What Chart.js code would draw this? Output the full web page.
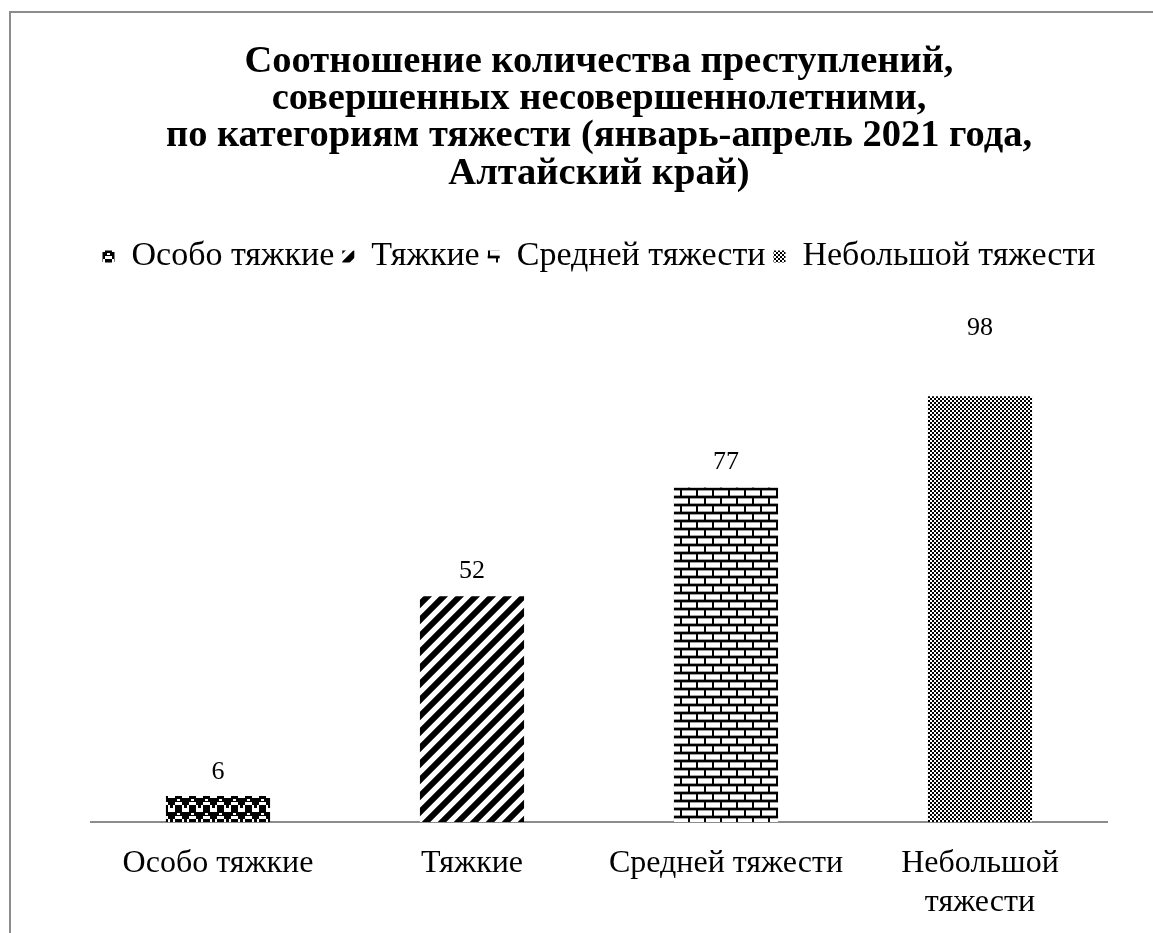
<!DOCTYPE html>
<html>
<head>
<meta charset="utf-8">
<script src="https://cdn.jsdelivr.net/npm/chart.js@4"></script>
<style>
  html, body { margin: 0; padding: 0; background: #fff; }
  #wrap { position: relative; width: 1153px; height: 933px; overflow: hidden; }
  #frame { position: absolute; left: 9px; top: 11px; width: 1200px; height: 1000px;
           border-left: 2px solid #8c8c8c; border-top: 2px solid #8c8c8c; }
  canvas { position: absolute; left: 0; top: 0; }
</style>
</head>
<body>
<div id="wrap">
  <div id="frame"></div>
  <canvas id="chart" width="1153" height="933"></canvas>
</div>
<script>
const titleLines = [
  "Соотношение количества преступлений,",
  "совершенных несовершеннолетними,",
  "по категориям тяжести (январь-апрель 2021 года,",
  "Алтайский край)"
];
const categories = ["Особо тяжкие", "Тяжкие", "Средней тяжести", "Небольшой тяжести"];
const tickLabels = [["Особо тяжкие"], ["Тяжкие"], ["Средней тяжести"], ["Небольшой", "тяжести"]];
const counts = [6, 52, 77, 98];

const FONT = "'Liberation Serif', 'Times New Roman', serif";

// штриховки в стиле Excel
function tile(size, draw) {
  const c = document.createElement("canvas");
  c.width = size; c.height = size;
  const g = c.getContext("2d");
  g.fillStyle = "#fff";
  g.fillRect(0, 0, size, size);
  g.fillStyle = "#000";
  draw(g, size);
  return document.getElementById("chart").getContext("2d").createPattern(c, "repeat");
}

const patterns = [
  tile(14, (g) => {            // крупная шахматка
    g.fillRect(0, 0, 7, 7);
    g.fillRect(7, 7, 7, 7);
    g.fillRect(0, 0, 14, 4);
    g.fillRect(2, 7, 3, 3);
    g.fillStyle = "#fff";
    g.fillRect(9, 1, 3, 2);
  }),
  tile(16, (g) => {            // широкая диагональ
    g.strokeStyle = "#000";
    g.lineWidth = 6;
    g.beginPath();
    g.moveTo(-4, 20); g.lineTo(20, -4);
    g.moveTo(-4, 4); g.lineTo(4, -4);
    g.moveTo(12, 20); g.lineTo(20, 12);
    g.stroke();
  }),
  tile(16, (g) => {            // кирпич
    g.fillRect(0, 0, 16, 2);
    g.fillRect(0, 8, 16, 2);
    g.fillRect(0, 0, 2, 8);
    g.fillRect(8, 8, 2, 8);
    g.fillStyle = "#a0a0a0";
    g.fillRect(2, 2, 14, 1);
    g.fillRect(2, 7, 14, 1);
    g.fillRect(0, 10, 8, 1);
    g.fillRect(10, 10, 6, 1);
    g.fillRect(0, 15, 8, 1);
    g.fillRect(10, 15, 6, 1);
  }),
  tile(4, (g) => {             // мелкая шахматка
    g.fillRect(0, 0, 2, 2);
    g.fillRect(2, 2, 2, 2);
  })
];

// подписи значений над столбцами (последняя в оригинале поднята выше)
const labelLift = [24, 25, 25, 68];

const valueLabels = {
  id: "valueLabels",
  afterDatasetsDraw(chart) {
    const ctx = chart.ctx;
    const meta = chart.getDatasetMeta(0);
    ctx.save();
    ctx.font = "26px " + FONT;
    ctx.fillStyle = "#000";
    ctx.textAlign = "center";
    ctx.textBaseline = "middle";
    meta.data.forEach((bar, i) => {
      ctx.fillText(String(counts[i]), bar.x, bar.y - labelLift[i]);
    });
    ctx.restore();
  }
};

new Chart(document.getElementById("chart"), {
  type: "bar",
  data: {
    labels: tickLabels,
    datasets: [{
      data: counts,
      backgroundColor: patterns,
      borderWidth: 0,
      categoryPercentage: 1,
      barPercentage: 0.41
    }]
  },
  options: {
    responsive: false,
    animation: false,
    layout: { padding: { left: 91, right: 46, top: 43, bottom: 7 } },
    plugins: {
      tooltip: { enabled: false },
      title: {
        display: true,
        text: titleLines,
        color: "#000",
        font: { family: FONT, size: 38.5, weight: "bold", lineHeight: 0.97 },
        padding: { top: 0, bottom: 39 }
      },
      legend: {
        display: true,
        labels: {
          color: "#000",
          font: { family: FONT, size: 34 },
          boxWidth: 12,
          boxHeight: 12,
          padding: 8,
          generateLabels: () => categories.map((c, i) => ({
            text: c,
            fillStyle: patterns[i],
            strokeStyle: "rgba(0,0,0,0)",
            lineWidth: 0,
            index: i
          }))
        }
      }
    },
    scales: {
      x: {
        grid: { display: false },
        border: { display: true, color: "#8c8c8c", width: 2 },
        afterFit: (scale) => { scale.height = 104; },
        ticks: {
          color: "#000",
          padding: 15,
          maxRotation: 0,
          font: { family: FONT, size: 32, lineHeight: 1.19 }
        }
      },
      y: {
        display: false,
        min: 0,
        max: 124
      }
    }
  },
  plugins: [valueLabels]
});
</script>
</body>
</html>
